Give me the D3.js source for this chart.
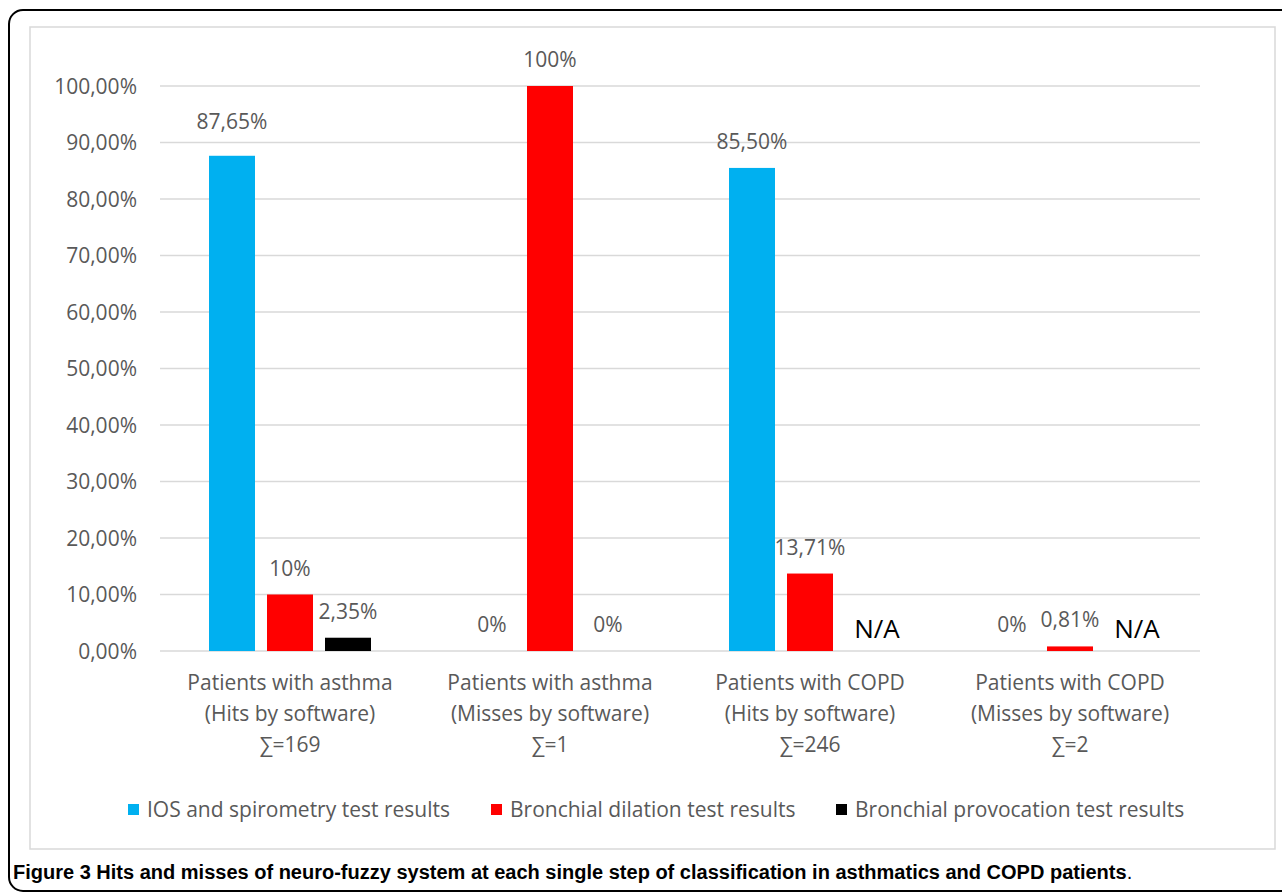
<!DOCTYPE html>
<html>
<head>
<meta charset="utf-8">
<script src="https://cdn.jsdelivr.net/npm/d3@7"></script>
<style>
	body{margin:0;background:#fff;overflow:hidden}
	svg{display:block}
	svg text{font-family:"Open Sans",Lato,sans-serif}
</style>
</head>
<body>
<div class="chart"></div>
<script>
// chart data
const categoryLine1=['Patients with asthma','Patients with asthma','Patients with COPD','Patients with COPD']
const categoryLine2=['(Hits by software)','(Misses by software)','(Hits by software)','(Misses by software)']
const categorySums=[169,1,246,2]
const seriesNames=['IOS and spirometry test results','Bronchial dilation test results','Bronchial provocation test results']
const iosValues=[87.65,0,85.50,0]
const dilationValues=[10,100,13.71,0.81]
const provocationValues=[2.35,0,null,null] // null = N/A
const yTicks=[0,10,20,30,40,50,60,70,80,90,100]

const colors=['#00b0f0','#ff0000','#000000']
const grey='#595959'
const fs=21

const locale=d3.formatLocale({decimal:',',thousands:'.',grouping:[3],currency:['','€']})
const tickFmt=v=>locale.format('.2f')(v)+'%'
const labelFmt=v=>Number.isInteger(v)? v+'%' : locale.format('.2f')(v)+'%'

const W=1282,H=893
const plot={left:160,right:1200,top:86,bottom:651}

let rows=categoryLine1.map((c,i)=>({
	i:i,
	values:[iosValues[i],dilationValues[i],provocationValues[i]]
}))

let svg=d3.select('.chart').append('svg')
	.attr('width',W)
	.attr('height',H)

// outer frame + chart area frame
svg.append('rect')
	.attr('x',9).attr('y',10)
	.attr('width',1310).attr('height',881)
	.attr('rx',14)
	.attr('fill','none')
	.attr('stroke','#000')
	.attr('stroke-width',2)

svg.append('rect')
	.attr('x',30).attr('y',27)
	.attr('width',1245).attr('height',822)
	.attr('fill','none')
	.attr('stroke','#d9d9d9')
	.attr('stroke-width',1.5)

let x0=d3.scaleBand()
	.domain(d3.range(categoryLine1.length))
	.range([plot.left,plot.right])

let x1=d3.scaleBand()
	.domain(d3.range(seriesNames.length))
	.range([0,x0.bandwidth()])
	.paddingInner(0.207)
	.paddingOuter(0.845)

let y=d3.scaleLinear()
	.domain([0,100])
	.range([plot.bottom,plot.top])

// grid
svg.append('g')
	.selectAll('line')
	.data(yTicks)
	.enter()
	.append('line')
	.attr('x1',plot.left)
	.attr('x2',plot.right)
	.attr('y1',d=>y(d))
	.attr('y2',d=>y(d))
	.attr('stroke','#d9d9d9')
	.attr('stroke-width',1.5)

const yAxis=d3.axisLeft(y)
	.tickValues(yTicks)
	.tickSize(0)
	.tickPadding(23)
	.tickFormat(tickFmt)

svg.append('g')
	.attr('class','axis y-axis')
	.attr('transform','translate('+plot.left+',0)')
	.call(yAxis)
	.call(g=>g.select('.domain').remove())
	.selectAll('text')
	.attr('fill',grey)
	.attr('font-size',fs)
	.attr('dy','0.35em')

// bars
let groups=svg.selectAll('.group')
	.data(rows)
	.enter()
	.append('g')
	.attr('class','group')
	.attr('transform',d=>'translate('+x0(d.i)+',0)')

groups.selectAll('rect')
	.data(d=>d.values.map((v,j)=>({v:v,j:j})).filter(d=>d.v!==null))
	.enter()
	.append('rect')
	.attr('x',d=>x1(d.j))
	.attr('y',d=>y(d.v))
	.attr('width',x1.bandwidth())
	.attr('height',d=>y(0)-y(d.v))
	.attr('fill',d=>colors[d.j])

// value labels
groups.selectAll('text.val')
	.data(d=>d.values.map((v,j)=>({v:v,j:j,i:d.i})).filter(d=>d.v!==null))
	.enter()
	.append('text')
	.attr('class','val')
	.attr('x',d=>x1(d.j)+x1.bandwidth()/2)
	.attr('y',d=>y(d.v)-(d.i==0&&d.j==0 ? 27 : 19))
	.attr('text-anchor','middle')
	.attr('font-size',fs)
	.attr('fill',grey)
	.text(d=>labelFmt(d.v))

groups.selectAll('text.na')
	.data(d=>d.values.map((v,j)=>({v:v,j:j})).filter(d=>d.v===null))
	.enter()
	.append('text')
	.attr('class','na')
	.attr('x',d=>x1(d.j)+x1.bandwidth()/2+9)
	.attr('y',y(0)-13)
	.attr('text-anchor','middle')
	.attr('font-size',26)
	.attr('fill','#000')
	.text('N/A')

// category labels
let catText=svg.append('g')
	.selectAll('text')
	.data(rows)
	.enter()
	.append('text')
	.attr('text-anchor','middle')
	.attr('font-size',fs)
	.attr('fill',grey)

catText.append('tspan')
	.attr('x',d=>x0(d.i)+x0.bandwidth()/2)
	.attr('y',690)
	.text(d=>categoryLine1[d.i])
catText.append('tspan')
	.attr('x',d=>x0(d.i)+x0.bandwidth()/2)
	.attr('y',721)
	.text(d=>categoryLine2[d.i])
catText.append('tspan')
	.attr('x',d=>x0(d.i)+x0.bandwidth()/2)
	.attr('y',752)
	.text(d=>'∑='+categorySums[d.i])

// legend
const legendX=[128,491,836]
let legend=svg.selectAll('.legend')
	.data(seriesNames)
	.enter()
	.append('g')
	.attr('class','legend')
	.attr('transform',(d,i)=>'translate('+legendX[i]+',804)')

legend.append('rect')
	.attr('width',11)
	.attr('height',11)
	.attr('fill',(d,i)=>colors[i])

legend.append('text')
	.attr('x',19)
	.attr('y',13)
	.attr('font-size',fs)
	.attr('fill',grey)
	.text(d=>d)

// caption
let cap=svg.append('text')
	.attr('x',13)
	.attr('y',879)
	.attr('font-size',20)
	.attr('fill','#000')
	.style('font-family','"Liberation Sans",Arial,sans-serif')
cap.append('tspan')
	.attr('font-weight','bold')
	.text('Figure 3 Hits and misses of neuro-fuzzy system at each single step of classification in asthmatics and COPD patients')
cap.append('tspan')
	.text('.')
</script>
</body>
</html>
